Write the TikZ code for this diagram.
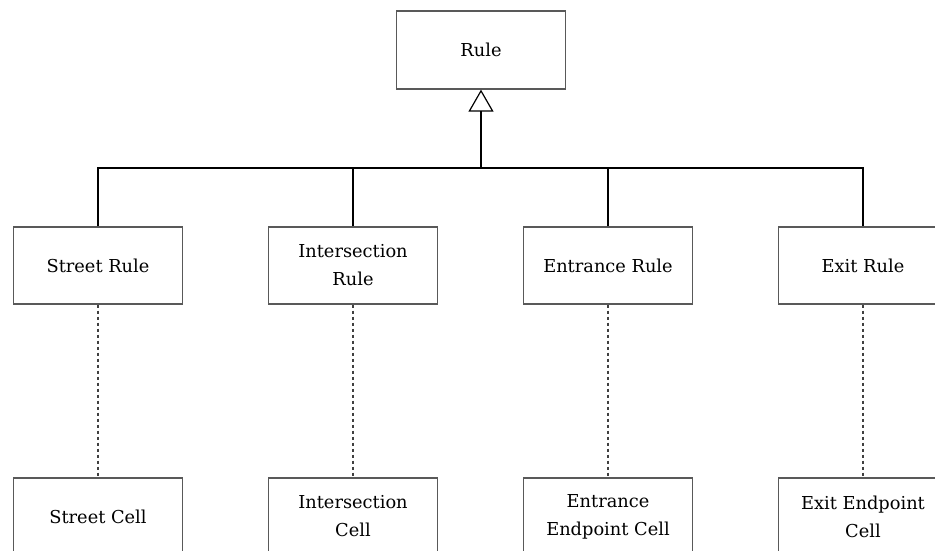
\documentclass[tikz,border=0pt]{standalone}
\usepackage{fontspec}
\setmainfont{DejaVu Serif}
\usetikzlibrary{arrows.meta}
\begin{document}
\begin{tikzpicture}[x=1pt,y=-1pt,
  box/.style={draw=black!65, line width=1.3pt, fill=white, minimum width=169pt, minimum height=77pt,
    align=center, inner sep=0pt, font=\fontsize{17.8}{28}\selectfont, text=black},
  link/.style={draw=black, line width=1.4pt},
  dep/.style={draw=black!75, line width=1.2pt, dash pattern=on 3pt off 3pt}]
\useasboundingbox (0,0) rectangle (935,551);
\clip (0,0) rectangle (935,551);
% parent class
\node[box, minimum height=78pt] (rule) at (481,50) {Rule};
% rule subclasses
\node[box] (street)  at (98,265.5)  {Street Rule};
\node[box] (inter)   at (353,265.5) {Intersection\\Rule};
\node[box] (entr)    at (608,265.5) {Entrance Rule};
\node[box] (exit)    at (863,265.5) {Exit Rule};
% cells
\node[box] (scell)   at (98,516.5)  {Street Cell};
\node[box] (icell)   at (353,516.5) {Intersection\\Cell};
\node[box] (ecell)   at (608,516.5) {Entrance\\Endpoint Cell};
\node[box] (xcell)   at (863,516.5) {Exit Endpoint\\Cell};
% generalization tree
\coordinate (join) at (rule.south |- 0,168);
\draw[link, -{Triangle[open, length=22pt, width=25pt, line width=1.2pt]}] (join) -- (rule.south);
\draw[link] (street.north) |- (join) -| (exit.north);
\draw[link] (inter.north) -- (inter.north |- join);
\draw[link] (entr.north) -- (entr.north |- join);
% dependencies
\draw[dep] (street.south) -- (scell.north);
\draw[dep] (inter.south) -- (icell.north);
\draw[dep] (entr.south) -- (ecell.north);
\draw[dep] (exit.south) -- (xcell.north);
\end{tikzpicture}
\end{document}
